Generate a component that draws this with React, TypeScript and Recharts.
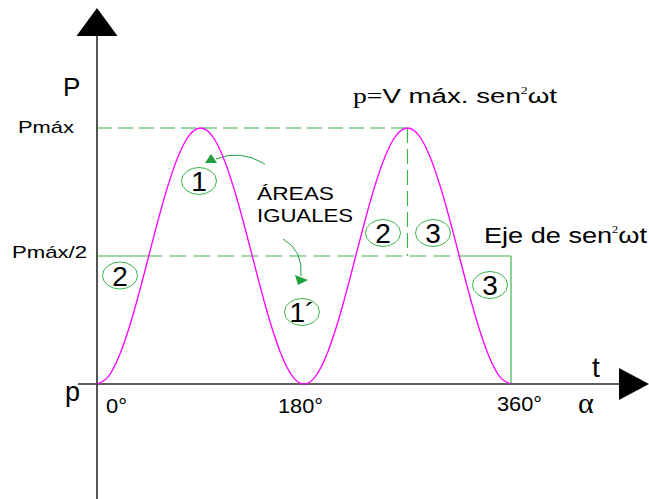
import React from 'react';
import { ComposedChart, Line, XAxis, YAxis, ReferenceLine } from 'recharts';

// angle in degrees (ωt)
const degrees = [0, 10, 20, 30, 40, 50, 60, 70, 80, 90, 100, 110, 120, 130, 140, 150, 160, 170, 180,
  190, 200, 210, 220, 230, 240, 250, 260, 270, 280, 290, 300, 310, 320, 330, 340, 350, 360];
// instantaneous power as fraction of Pmáx
const power = [0, 0.03, 0.117, 0.25, 0.413, 0.587, 0.75, 0.883, 0.97, 1, 0.97, 0.883, 0.75, 0.587, 0.413, 0.25, 0.117, 0.03, 0,
  0.03, 0.117, 0.25, 0.413, 0.587, 0.75, 0.883, 0.97, 1, 0.97, 0.883, 0.75, 0.587, 0.413, 0.25, 0.117, 0.03, 0];

const xTicks = [0, 180, 360];
const xTickLabels = ['0°', '180°', '360°'];
const yTicks = [0, 0.5, 1];
const yTickLabels = ['p', 'Pmáx/2', 'Pmáx'];

const data = degrees.map((d, i) => ({ deg: d, p: power[i] }));

const SANS = '"Liberation Sans", Arial, sans-serif';
const SERIF = '"Liberation Serif", "Times New Roman", serif';
const GREEN = '#3cb44b';
const LIGHTGREEN = '#74cc84';
const AXIS = '#2b2b2b';
const INK = '#000';

const xTickStyle: Record<number, { dx: number; w: number; dy: number }> = {
  0: { dx: 9, w: 21, dy: 29 },
  180: { dx: -26, w: 45, dy: 29 },
  360: { dx: -14, w: 45, dy: 27 },
};

const XTick = (props: any) => {
  const { x, payload } = props;
  const i = xTicks.indexOf(payload.value);
  const s = xTickStyle[payload.value];
  const axisY = 384;
  return (
    <text x={x + s.dx} y={axisY + s.dy} fontFamily={SANS} fontSize={20} fill={INK}
      textLength={s.w} lengthAdjust="spacingAndGlyphs">{xTickLabels[i]}</text>
  );
};

const yTickStyle: Record<string, { x: number; dy: number; fs: number; w?: number }> = {
  '0': { x: 65, dy: 17, fs: 27 },
  '0.5': { x: 12, dy: 2, fs: 17, w: 75 },
  '1': { x: 18, dy: 5, fs: 17, w: 56 },
};

const YTick = (props: any) => {
  const { y, payload } = props;
  const i = yTicks.indexOf(payload.value);
  const s = yTickStyle[String(payload.value)];
  return (
    <text x={s.x} y={y + s.dy} fontFamily={SANS} fontSize={s.fs} fill={INK}
      textLength={s.w} lengthAdjust={s.w ? 'spacingAndGlyphs' : undefined}>{yTickLabels[i]}</text>
  );
};

const VArrowAxis = (props: any) => {
  const { x1, y1, x2, y2 } = props;
  const top = Math.min(y1, y2);
  return (
    <g>
      <line x1={x1} y1={y1} x2={x2} y2={y2} stroke={AXIS} strokeWidth={1.6} />
      <polygon points={`${x1 - 20.5},${top} ${x1 + 20.5},${top} ${x1},${top - 28}`} fill="#000" />
    </g>
  );
};

const HArrowAxis = (props: any) => {
  const { x1, y1, x2, y2 } = props;
  const right = Math.max(x1, x2);
  return (
    <g>
      <line x1={x1} y1={y1} x2={x2} y2={y2} stroke={AXIS} strokeWidth={1.6} />
      <polygon points={`${right},${y1 - 16} ${right},${y1 + 16} ${right + 30},${y1}`} fill="#000" />
    </g>
  );
};

const circled = [
  { cx: 199, cy: 181, t: '1' },
  { cx: 120, cy: 275.5, t: '2' },
  { cx: 302, cy: 312, t: '1´' },
  { cx: 383, cy: 233, t: '2' },
  { cx: 433, cy: 233, t: '3' },
  { cx: 490, cy: 285, t: '3' },
];

export default function App() {
  return (
    <div style={{ width: 649, height: 499 }}>
      <style>{'body{margin:0;}'}</style>
      <ComposedChart width={649} height={499} data={data}
        margin={{ top: 128, right: 138, bottom: 85, left: 0 }}>
        <XAxis type="number" dataKey="deg" domain={[0, 360]} ticks={xTicks} interval={0}
          axisLine={false} tickLine={false} height={30} tick={<XTick />} />
        <YAxis type="number" domain={[0, 1]} ticks={yTicks} interval={0} width={97}
          axisLine={false} tickLine={false} tick={<YTick />} />

        <ReferenceLine segment={[{ x: 0, y: 1 }, { x: 270, y: 1 }]} stroke={LIGHTGREEN}
          strokeWidth={1.3} strokeDasharray="15 6" ifOverflow="visible" />
        <ReferenceLine segment={[{ x: 0, y: 0.5 }, { x: 42, y: 0.5 }]} stroke={GREEN}
          strokeWidth={1.2} ifOverflow="visible" />
        <ReferenceLine segment={[{ x: 42, y: 0.5 }, { x: 314, y: 0.5 }]} stroke={GREEN}
          strokeWidth={1.2} strokeDasharray="17 7" ifOverflow="visible" />
        <ReferenceLine segment={[{ x: 314, y: 0.5 }, { x: 360, y: 0.5 }]} stroke={GREEN}
          strokeWidth={1.2} ifOverflow="visible" />
        <ReferenceLine segment={[{ x: 270, y: 1 }, { x: 270, y: 0.5 }]} stroke={GREEN}
          strokeWidth={1.2} strokeDasharray="15 6" ifOverflow="visible" />
        <ReferenceLine segment={[{ x: 360, y: 0.5 }, { x: 360, y: 0 }]} stroke={GREEN}
          strokeWidth={1.2} ifOverflow="visible" />

        <ReferenceLine segment={[{ x: 0, y: -0.449 }, { x: 0, y: 1.359 }]} ifOverflow="visible"
          shape={<VArrowAxis />} />
        <ReferenceLine segment={[{ x: -16.5, y: 0 }, { x: 453.9, y: 0 }]} ifOverflow="visible"
          shape={<HArrowAxis />} />

        <Line type="monotone" dataKey="p" stroke="#ff00ff" strokeWidth={1.3} dot={false}
          isAnimationActive={false} />

        <g>
          <text x={63} y={96} fontFamily={SANS} fontSize={26} fill={INK}>P</text>
          <text x={353} y={103} fontSize={20} fill={INK} textLength={204} lengthAdjust="spacingAndGlyphs">
            <tspan fontFamily={SERIF}>p=</tspan>
            <tspan fontFamily={SANS}>V máx. sen</tspan>
            <tspan fontFamily={SERIF} fontSize={10} dy={-9}>2</tspan>
            <tspan fontFamily={SANS} dy={9}>ωt</tspan>
          </text>
          <text x={257} y={200} fontFamily={SANS} fontSize={18} fill={INK} textLength={77}
            lengthAdjust="spacingAndGlyphs">ÁREAS</text>
          <text x={257} y={222} fontFamily={SANS} fontSize={18} fill={INK} textLength={96}
            lengthAdjust="spacingAndGlyphs">IGUALES</text>
          <text x={484} y={243} fontSize={22} fill={INK} textLength={163} lengthAdjust="spacingAndGlyphs">
            <tspan fontFamily={SANS}>Eje de sen</tspan>
            <tspan fontFamily={SERIF} fontSize={10} dy={-10}>2</tspan>
            <tspan fontFamily={SANS} dy={10}>ωt</tspan>
          </text>
          <text x={592} y={377} fontFamily={SANS} fontSize={28} fill={INK}>t</text>
          <text x={578} y={413} fontFamily={SERIF} fontSize={30} fill={INK}>α</text>

          {circled.map((c, i) => (
            <g key={i}>
              <ellipse cx={c.cx} cy={c.cy} rx={17.5} ry={13.5} fill="none" stroke={GREEN} strokeWidth={1} />
              <text x={c.cx} y={c.cy + 10} textAnchor="middle" fontFamily={SANS} fontSize={28} fill={INK}>{c.t}</text>
            </g>
          ))}

          <path d="M265,164 Q240,149 216,159" fill="none" stroke="#1fa03a" strokeWidth={1} />
          <polygon points="205,163 217,163 211,154" fill="#1fa03a" />
          <path d="M283,239 Q303,250 301,276" fill="none" stroke="#1fa03a" strokeWidth={1} />
          <polygon points="295,275 308,280 298,285" fill="#1fa03a" />
        </g>
      </ComposedChart>
    </div>
  );
}
